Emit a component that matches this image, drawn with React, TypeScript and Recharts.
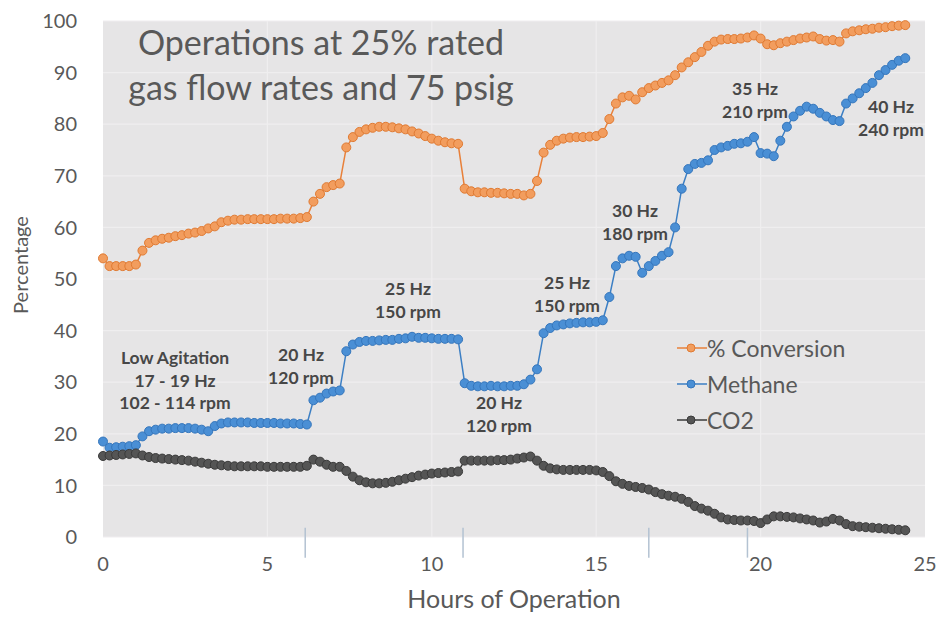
import React from 'react';
import {
  LineChart,
  Line,
  XAxis,
  YAxis,
  CartesianGrid,
  ReferenceLine,
  Legend,
  Customized,
} from 'recharts';

// ---------- data ----------
const hours = [
  0, 0.2, 0.4, 0.6, 0.8, 1, 1.2, 1.4, 1.6, 1.8,
  2, 2.2, 2.4, 2.6, 2.8, 3, 3.2, 3.4, 3.6, 3.8,
  4, 4.2, 4.4, 4.6, 4.8, 5, 5.2, 5.4, 5.6, 5.8,
  6, 6.2, 6.4, 6.6, 6.8, 7, 7.2, 7.4, 7.6, 7.8,
  8, 8.2, 8.4, 8.6, 8.8, 9, 9.2, 9.4, 9.6, 9.8,
  10, 10.2, 10.4, 10.6, 10.8, 11, 11.2, 11.4, 11.6, 11.8,
  12, 12.2, 12.4, 12.6, 12.8, 13, 13.2, 13.4, 13.6, 13.8,
  14, 14.2, 14.4, 14.6, 14.8, 15, 15.2, 15.4, 15.6, 15.8,
  16, 16.2, 16.4, 16.6, 16.8, 17, 17.2, 17.4, 17.6, 17.8,
  18, 18.2, 18.4, 18.6, 18.8, 19, 19.2, 19.4, 19.6, 19.8,
  20, 20.2, 20.4, 20.6, 20.8, 21, 21.2, 21.4, 21.6, 21.8,
  22, 22.2, 22.4, 22.6, 22.8, 23, 23.2, 23.4, 23.6, 23.8,
  24, 24.2, 24.4,
];

const conversion = [
  54, 52.5, 52.5, 52.5, 52.5, 52.8, 55.5, 57, 57.5, 57.8,
  58, 58.3, 58.5, 58.8, 59, 59.3, 59.8, 60.2, 61, 61.3,
  61.5, 61.5, 61.6, 61.6, 61.6, 61.6, 61.6, 61.7, 61.7, 61.7,
  61.8, 62, 65, 66.5, 67.8, 68.2, 68.5, 75.5, 77.5, 78.5,
  79, 79.3, 79.5, 79.5, 79.4, 79.2, 79, 78.6, 78.2, 77.7,
  77.2, 76.8, 76.5, 76.3, 76.2, 67.5, 67, 66.8, 66.8, 66.7,
  66.7, 66.6, 66.5, 66.5, 66.2, 66.5, 69, 74.5, 76, 76.8,
  77.2, 77.4, 77.5, 77.5, 77.6, 77.7, 78.3, 81, 84, 85.2,
  85.5, 84.8, 86.2, 87, 87.5, 88, 88.5, 89.5, 91, 92,
  93, 94, 95.2, 96, 96.4, 96.5, 96.5, 96.6, 96.8, 97.2,
  96.6, 95.5, 95.3, 95.7, 96, 96.3, 96.6, 96.8, 97, 96.5,
  96.2, 96.3, 96, 97.6, 98, 98.2, 98.4, 98.5, 98.7, 98.8,
  99, 99.1, 99.2,
];

const methane = [
  18.5, 17.3, 17.4, 17.5, 17.6, 17.8, 19.5, 20.5, 20.8, 21,
  21, 21.1, 21.1, 21.1, 21, 20.8, 20.5, 21.5, 22, 22.2,
  22.2, 22.2, 22.2, 22.1, 22.1, 22.1, 22.1, 22, 22, 22,
  21.9, 21.8, 26.5, 27, 27.8, 28.2, 28.4, 36, 37.3, 37.8,
  38, 38, 38.1, 38.2, 38.2, 38.4, 38.5, 38.8, 38.6, 38.6,
  38.5, 38.4, 38.4, 38.4, 38.3, 29.8, 29.3, 29.2, 29.2, 29.3,
  29.2, 29.2, 29.3, 29.3, 29.6, 30.5, 32.5, 39.5, 40.5, 41,
  41.2, 41.4, 41.5, 41.6, 41.6, 41.7, 42, 46.5, 52.5, 54,
  54.5, 54.3, 51.2, 52.5, 53.5, 54.5, 55.2, 60, 67.5, 71.3,
  72.3, 72.5, 73, 75, 75.5, 75.8, 76.2, 76.3, 76.6, 77.5,
  74.4, 74.3, 73.8, 76.8, 79.5, 81.5, 82.6, 83.4, 83, 82.2,
  81.5, 80.8, 80.6, 84, 85, 86, 87, 88, 89.5, 90.5,
  91.5, 92.3, 92.8,
];

const co2 = [
  15.7, 15.8, 15.9, 16, 16.1, 16.2, 15.8, 15.5, 15.3, 15.2,
  15.1, 15, 14.9, 14.8, 14.6, 14.4, 14.2, 14, 13.9, 13.8,
  13.7, 13.7, 13.7, 13.7, 13.7, 13.6, 13.6, 13.6, 13.6, 13.6,
  13.6, 13.8, 15, 14.6, 14, 13.6, 13.6, 12.8, 11.7, 11,
  10.6, 10.4, 10.4, 10.5, 10.7, 11, 11.3, 11.6, 11.9, 12.1,
  12.3, 12.4, 12.5, 12.6, 12.7, 14.8, 14.8, 14.8, 14.8, 14.8,
  14.9, 14.9, 15, 15.2, 15.4, 15.6, 14.8, 13.8, 13.3, 13.1,
  13, 13, 13, 13, 13, 12.9, 12.6, 11.8, 10.8, 10.3,
  9.9, 9.7, 9.5, 9.2, 8.7, 8.3, 8, 7.8, 7.4, 6.8,
  6, 5.5, 5.1, 4.5, 3.8, 3.4, 3.3, 3.2, 3.2, 3.1,
  2.7, 3.4, 4, 4, 3.9, 3.8, 3.6, 3.4, 3.2, 2.8,
  3, 3.5, 3.2, 2.5, 2.1, 2, 1.9, 1.8, 1.7, 1.6,
  1.5, 1.4, 1.3,
];

const xTicks = [0, 5, 10, 15, 20, 25];
const yTicks = [0, 10, 20, 30, 40, 50, 60, 70, 80, 90, 100];
const changeHours = [6.15, 10.95, 16.6, 19.6];

const seriesNames = ['% Conversion', 'Methane', 'CO2'];
const titleLines = ['Operations at 25% rated', 'gas flow rates and 75 psig'];
const annotationTexts = [
  ['Low Agitation', '17 - 19 Hz', '102 - 114 rpm'],
  ['20 Hz', '120 rpm'],
  ['25 Hz', '150 rpm'],
  ['20 Hz', '120 rpm'],
  ['25 Hz', '150 rpm'],
  ['30 Hz', '180 rpm'],
  ['35 Hz', '210 rpm'],
  ['40 Hz', '240 rpm'],
];

// ---------- styling / layout ----------
const annotationPos = [
  { x: 175, y: 358 },
  { x: 301, y: 355 },
  { x: 408, y: 289 },
  { x: 499, y: 403 },
  { x: 567, y: 283 },
  { x: 635, y: 211 },
  { x: 755, y: 89 },
  { x: 891, y: 107 },
];

const seriesStyle = [
  { key: 'conversion', line: '#E8803A', fill: '#F29D5E', stroke: '#E07A32' },
  { key: 'methane', line: '#3C7FC4', fill: '#4A8FD5', stroke: '#3576BC' },
  { key: 'co2', line: '#3a3a3a', fill: '#555555', stroke: '#3a3a3a' },
];

const FONT = 'Lato, "Open Sans", sans-serif';
const TEXT = '#595959';

const data = hours.map((h, i) => ({
  h,
  conversion: conversion[i],
  methane: methane[i],
  co2: co2[i],
}));

const Overlay = () => (
  <g>
    <text
      x={321}
      y={55}
      textAnchor="middle"
      fontFamily={FONT}
      fontSize={34}
      fill={TEXT}
    >
      {titleLines[0]}
    </text>
    <text
      x={321}
      y={100}
      textAnchor="middle"
      fontFamily={FONT}
      fontSize={34}
      fill={TEXT}
    >
      {titleLines[1]}
    </text>
    {annotationTexts.map((lines, i) =>
      lines.map((t, j) => (
        <text
          key={`${i}-${j}`}
          x={annotationPos[i].x}
          y={annotationPos[i].y + j * 22.5}
          dy="0.35em"
          textAnchor="middle"
          fontFamily={FONT}
          fontWeight={700}
          fontSize={17.5}
          fill="#474747"
        >
          {t}
        </text>
      ))
    )}
    <text
      x={0}
      y={0}
      transform="translate(21,265) rotate(-90)"
      textAnchor="middle"
      dy="0.35em"
      fontFamily={FONT}
      fontSize={20}
      fill={TEXT}
    >
      Percentage
    </text>
  </g>
);

const LegendContent = () => (
  <div style={{ fontFamily: FONT, fontSize: 23, color: TEXT }}>
    {seriesNames.map((name, i) => (
      <div
        key={name}
        style={{ display: 'flex', alignItems: 'center', height: 36 }}
      >
        <svg width={30} height={12} style={{ display: 'block' }}>
          <line
            x1={0}
            y1={6}
            x2={30}
            y2={6}
            stroke={seriesStyle[i].line}
            strokeWidth={1.5}
          />
          <circle
            cx={14}
            cy={6}
            r={4}
            fill={seriesStyle[i].fill}
            stroke={seriesStyle[i].stroke}
          />
        </svg>
        <span style={{ marginLeft: 0, lineHeight: '23px' }}>{name}</span>
      </div>
    ))}
  </div>
);

export default function App() {
  return (
    <div style={{ position: 'absolute', left: 0, top: 0, background: '#ffffff' }}>
      <LineChart
        width={943}
        height={629}
        data={data}
        margin={{ top: 21, right: 18, bottom: 0, left: 0 }}
      >
        <CartesianGrid
          fill="#e6e5e6"
          stroke="#efeeef"
          strokeWidth={1.2}
          verticalValues={[5, 10, 15, 20]}
        />
        <XAxis
          dataKey="h"
          type="number"
          domain={[0, 25]}
          ticks={xTicks}
          height={92}
          axisLine={false}
          tickLine={false}
          tickSize={0}
          tickMargin={20}
          tick={{ fill: TEXT, fontSize: 20, fontFamily: FONT }}
          label={{
            value: 'Hours of Operation',
            position: 'insideBottom',
            offset: 21,
            fill: TEXT,
            fontSize: 25,
            fontFamily: FONT,
          }}
        />
        <YAxis
          type="number"
          domain={[0, 100]}
          ticks={yTicks}
          width={103}
          axisLine={false}
          tickLine={false}
          tickSize={0}
          tickMargin={26}
          tick={{ fill: TEXT, fontSize: 20, fontFamily: FONT }}
        />
        {changeHours.map((h) => (
          <ReferenceLine
            key={h}
            segment={[
              { x: h, y: 1.8 },
              { x: h, y: -4 },
            ]}
            stroke="#b3c2d2"
            strokeWidth={1.5}
            ifOverflow="visible"
          />
        ))}
        {seriesStyle.map((s, i) => (
          <Line
            key={s.key}
            type="linear"
            dataKey={s.key}
            name={seriesNames[i]}
            stroke={s.line}
            strokeWidth={1.5}
            dot={{ r: 4.5, fill: s.fill, stroke: s.stroke, strokeWidth: 1 }}
            activeDot={false}
            isAnimationActive={false}
          />
        ))}
        <Legend
          layout="vertical"
          align="center"
          verticalAlign="middle"
          content={<LegendContent />}
          wrapperStyle={{ left: 677, top: 330, width: 240 }}
        />
        <Customized component={Overlay} />
      </LineChart>
    </div>
  );
}
